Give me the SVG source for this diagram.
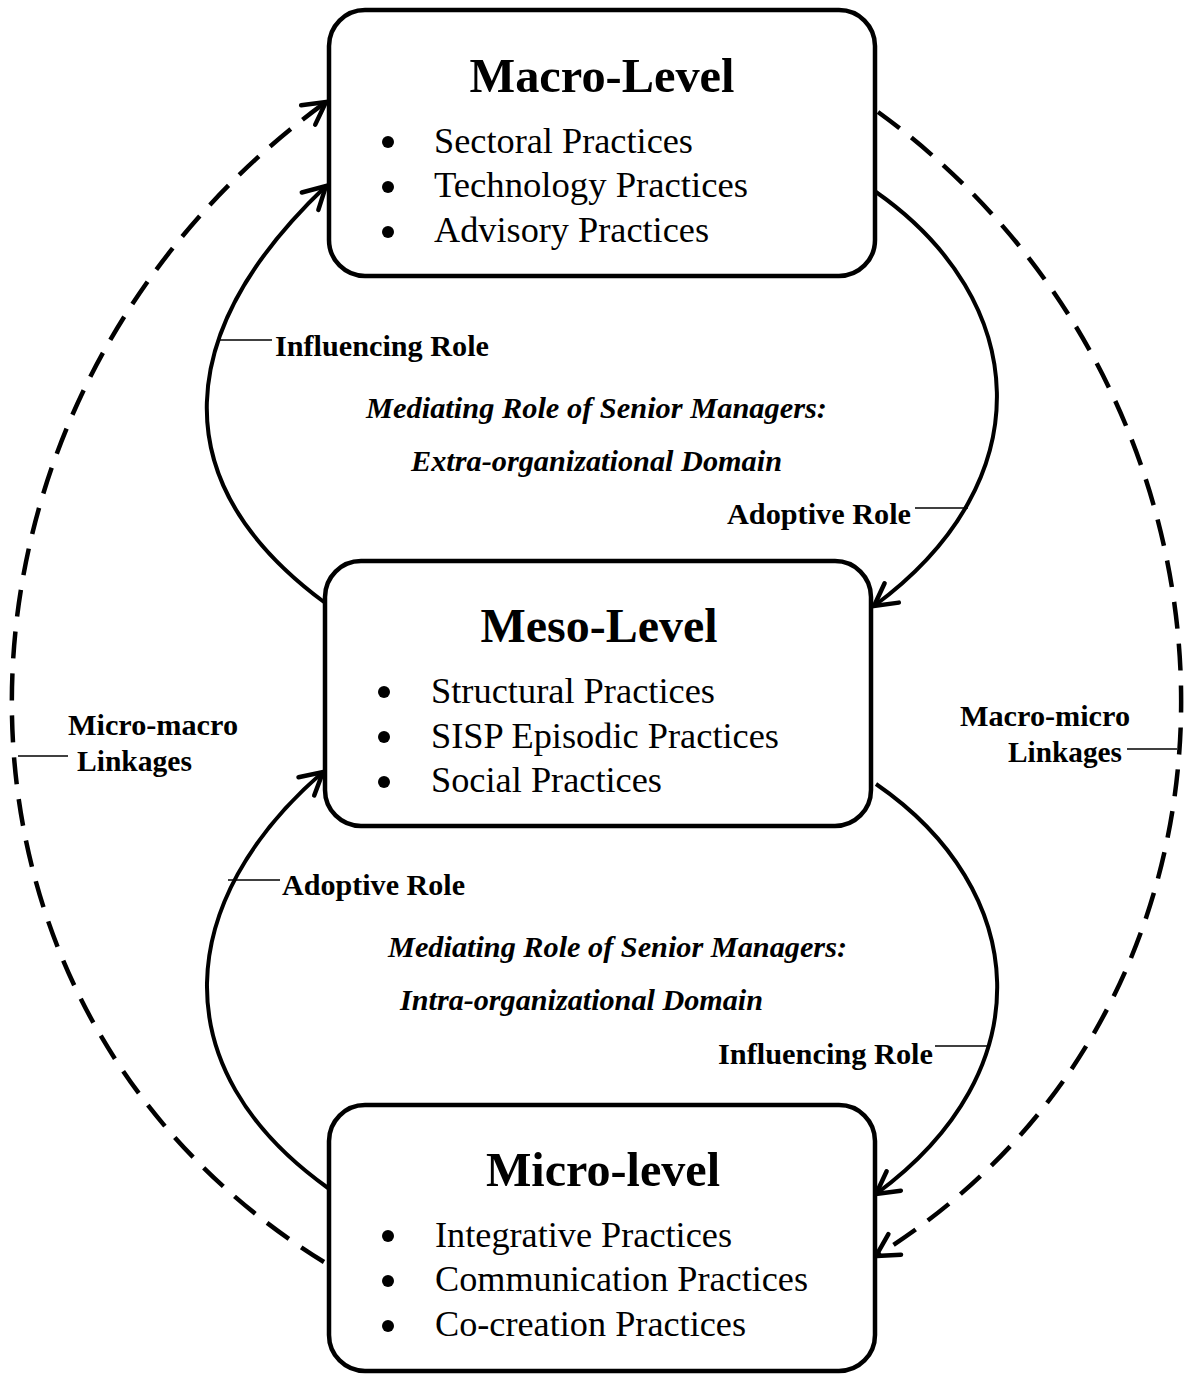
<svg xmlns="http://www.w3.org/2000/svg" width="1184" height="1375" viewBox="0 0 1184 1375">
<style>
  text { font-family: 'Liberation Serif', 'Times New Roman', Times, serif; fill: #000; }
  .box { fill: #fff; stroke: #000; stroke-width: 4.5; }
  .title { font-weight: bold; font-size: 48px; text-anchor: middle; }
  .item { font-size: 36px; }
  .lbl { font-weight: bold; font-size: 30px; }
  .med { font-weight: bold; font-style: italic; font-size: 30px; }
  .arc { fill: none; stroke: #000; stroke-width: 4; marker-end: url(#ah); }
  .dash { fill: none; stroke: #000; stroke-width: 4.5; stroke-dasharray: 27 15; marker-end: url(#ah); }
  .lead { stroke: #000; stroke-width: 1.6; fill: none; }
</style>
<defs>
  <marker id="ah" viewBox="-24 -14 28 28" refX="0" refY="0" markerWidth="28" markerHeight="28" markerUnits="userSpaceOnUse" orient="auto" overflow="visible">
    <path d="M-22,-12 L0,0 L-22,12" fill="none" stroke="#000" stroke-width="4.5" stroke-linecap="round" stroke-linejoin="miter"/>
  </marker>
</defs>
<rect width="1184" height="1375" fill="#fff"/>

<g id="connectors">
  <path class="arc" d="M 324 602 C 160 480, 175 330, 326 186"/>
  <path class="arc" d="M 876 192 C 1030 300, 1045 480, 874 606"/>
  <path class="arc" d="M 328 1188 C 160 1068, 175 900, 323 772"/>
  <path class="arc" d="M 876 784 C 1030 890, 1045 1070, 876 1194"/>
  <path class="dash" d="M 324 1262 C -100 1000, -85 400, 326 102"/>
  <path class="dash" d="M 878 112 C 1275 400, 1290 1000, 876 1256"/>
  <line class="lead" x1="218" y1="340" x2="272" y2="340"/>
  <line class="lead" x1="915" y1="508" x2="968" y2="508"/>
  <line class="lead" x1="18" y1="756" x2="68" y2="756"/>
  <line class="lead" x1="1127" y1="749" x2="1177" y2="749"/>
  <line class="lead" x1="228" y1="880" x2="280" y2="880"/>
  <line class="lead" x1="935" y1="1046" x2="987" y2="1046"/>
</g>

<g id="macro">
  <rect class="box" x="329" y="10" width="546" height="266" rx="36"/>
  <text class="title" x="602" y="92" textLength="265" lengthAdjust="spacingAndGlyphs">Macro-Level</text>
  <circle cx="388" cy="142" r="6"/>
  <circle cx="388" cy="187" r="6"/>
  <circle cx="388" cy="232" r="6"/>
  <text class="item" x="434" y="153" textLength="259" lengthAdjust="spacingAndGlyphs">Sectoral Practices</text>
  <text class="item" x="434" y="197" textLength="314" lengthAdjust="spacingAndGlyphs">Technology Practices</text>
  <text class="item" x="434" y="242" textLength="275" lengthAdjust="spacingAndGlyphs">Advisory Practices</text>
</g>

<g id="meso">
  <rect class="box" x="325" y="561" width="546" height="265" rx="36"/>
  <text class="title" x="599" y="642" textLength="237" lengthAdjust="spacingAndGlyphs">Meso-Level</text>
  <circle cx="384" cy="692" r="6"/>
  <circle cx="384" cy="737" r="6"/>
  <circle cx="384" cy="782" r="6"/>
  <text class="item" x="431" y="703" textLength="284" lengthAdjust="spacingAndGlyphs">Structural Practices</text>
  <text class="item" x="431" y="748" textLength="348" lengthAdjust="spacingAndGlyphs">SISP Episodic Practices</text>
  <text class="item" x="431" y="792" textLength="231" lengthAdjust="spacingAndGlyphs">Social Practices</text>
</g>

<g id="micro">
  <rect class="box" x="329" y="1105" width="546" height="266" rx="36"/>
  <text class="title" x="603" y="1186" textLength="234" lengthAdjust="spacingAndGlyphs">Micro-level</text>
  <circle cx="388" cy="1236" r="6"/>
  <circle cx="388" cy="1281" r="6"/>
  <circle cx="388" cy="1326" r="6"/>
  <text class="item" x="435" y="1247" textLength="297" lengthAdjust="spacingAndGlyphs">Integrative Practices</text>
  <text class="item" x="435" y="1291" textLength="373" lengthAdjust="spacingAndGlyphs">Communication Practices</text>
  <text class="item" x="435" y="1336" textLength="311" lengthAdjust="spacingAndGlyphs">Co-creation Practices</text>
</g>

<g id="labels">
  <text class="lbl" x="275" y="356" textLength="214" lengthAdjust="spacingAndGlyphs">Influencing Role</text>
  <text class="med" x="366" y="418" textLength="461" lengthAdjust="spacingAndGlyphs">Mediating Role of Senior Managers:</text>
  <text class="med" x="411" y="471" textLength="371" lengthAdjust="spacingAndGlyphs">Extra-organizational Domain</text>
  <text class="lbl" x="727" y="524" textLength="184" lengthAdjust="spacingAndGlyphs">Adoptive Role</text>
  <text class="lbl" x="68" y="735" textLength="170" lengthAdjust="spacingAndGlyphs">Micro-macro</text>
  <text class="lbl" x="77" y="771" textLength="115" lengthAdjust="spacingAndGlyphs">Linkages</text>
  <text class="lbl" x="960" y="726" textLength="170" lengthAdjust="spacingAndGlyphs">Macro-micro</text>
  <text class="lbl" x="1008" y="762" textLength="114" lengthAdjust="spacingAndGlyphs">Linkages</text>
  <text class="lbl" x="282" y="895" textLength="183" lengthAdjust="spacingAndGlyphs">Adoptive Role</text>
  <text class="med" x="388" y="957" textLength="459" lengthAdjust="spacingAndGlyphs">Mediating Role of Senior Managers:</text>
  <text class="med" x="400" y="1010" textLength="363" lengthAdjust="spacingAndGlyphs">Intra-organizational Domain</text>
  <text class="lbl" x="718" y="1064" textLength="215" lengthAdjust="spacingAndGlyphs">Influencing Role</text>
</g>
</svg>
